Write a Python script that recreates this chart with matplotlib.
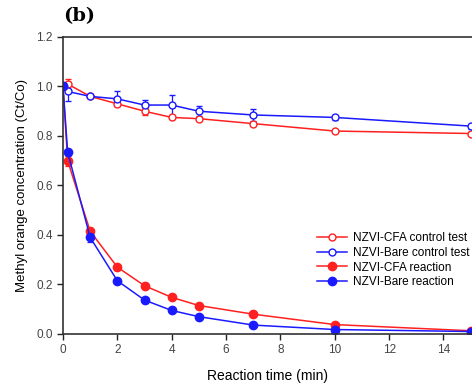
import matplotlib.pyplot as plt

plt.rcParams['font.family'] = ['Liberation Sans', 'DejaVu Sans']

t = [0, 0.17, 1, 2, 3, 4, 5, 7, 10, 15]
cfa_ctrl = [1.0, 1.01, 0.96, 0.93, 0.90, 0.875, 0.87, 0.85, 0.82, 0.81]
cfa_ctrl_err = [0.01, 0.02, 0.005, 0.01, 0.015, 0.005, 0.005, 0.005, 0.005, 0.005]
bare_ctrl = [1.0, 0.98, 0.96, 0.95, 0.925, 0.925, 0.90, 0.885, 0.875, 0.84]
bare_ctrl_err = [0.01, 0.04, 0.005, 0.03, 0.02, 0.04, 0.02, 0.025, 0.01, 0.01]
cfa_rx = [1.0, 0.70, 0.415, 0.27, 0.195, 0.148, 0.115, 0.08, 0.038, 0.013]
cfa_rx_err = [0.005, 0.02, 0.01, 0.01, 0.01, 0.005, 0.005, 0.005, 0.005, 0.005]
bare_rx = [1.0, 0.735, 0.39, 0.215, 0.137, 0.095, 0.07, 0.036, 0.018, 0.01]
bare_rx_err = [0.005, 0.01, 0.02, 0.01, 0.005, 0.005, 0.005, 0.005, 0.005, 0.005]
labels = ['NZVI-CFA control test', 'NZVI-Bare control test', 'NZVI-CFA reaction', 'NZVI-Bare reaction']

fig = plt.figure(figsize=(4.72, 3.85), dpi=100)
ax = fig.add_axes([0.1335, 0.1325, 0.8665, 0.7714])

red = '#ff2020'
blue = '#1a1aff'
kw = dict(lw=1.1, capsize=2.5, elinewidth=0.9, capthick=0.9)
h1 = ax.errorbar(t, cfa_ctrl, yerr=cfa_ctrl_err, color=red, marker='o', ms=5, mfc='white', mew=1, **kw)
h2 = ax.errorbar(t, bare_ctrl, yerr=bare_ctrl_err, color=blue, marker='o', ms=5, mfc='white', mew=1, **kw)
h3 = ax.errorbar(t, cfa_rx, yerr=cfa_rx_err, color=red, marker='o', ms=6, **kw)
h4 = ax.errorbar(t, bare_rx, yerr=bare_rx_err, color=blue, marker='o', ms=6, **kw)

ax.set_xlim(0, 15.05)
ax.set_ylim(0, 1.2)
ax.set_xticks([0, 2, 4, 6, 8, 10, 12, 14])
ax.set_yticks([0.0, 0.2, 0.4, 0.6, 0.8, 1.0, 1.2])
ax.set_yticklabels(['0.0', '0.2', '0.4', '0.6', '0.8', '1.0', '1.2'])
ax.tick_params(direction='out', labelsize=8.5, length=4, width=1, colors='#222222')
ax.spines['right'].set_visible(False)
for s in ['left', 'bottom', 'top']:
    ax.spines[s].set_linewidth(1.2)
    ax.spines[s].set_color('#333333')
for lab in ax.get_xticklabels() + ax.get_yticklabels():
    lab.set_color('#444444')

ax.set_xlabel('Reaction time (min)', fontsize=10, labelpad=9)
ax.set_ylabel('Methyl orange concentration (Ct/Co)', fontsize=9.5, labelpad=6)

ax.legend([h1[0], h2[0], h3[0], h4[0]], labels, loc='upper left', bbox_to_anchor=(0.6, 0.37),
          frameon=False, fontsize=8.5, handlelength=2.6, labelspacing=0.22, borderpad=0.2,
          handletextpad=0.5)

fig.text(0.133, 0.945, '(b)', fontsize=14, fontweight='bold', family='DejaVu Serif')

fig.savefig('out.png', dpi=100)
